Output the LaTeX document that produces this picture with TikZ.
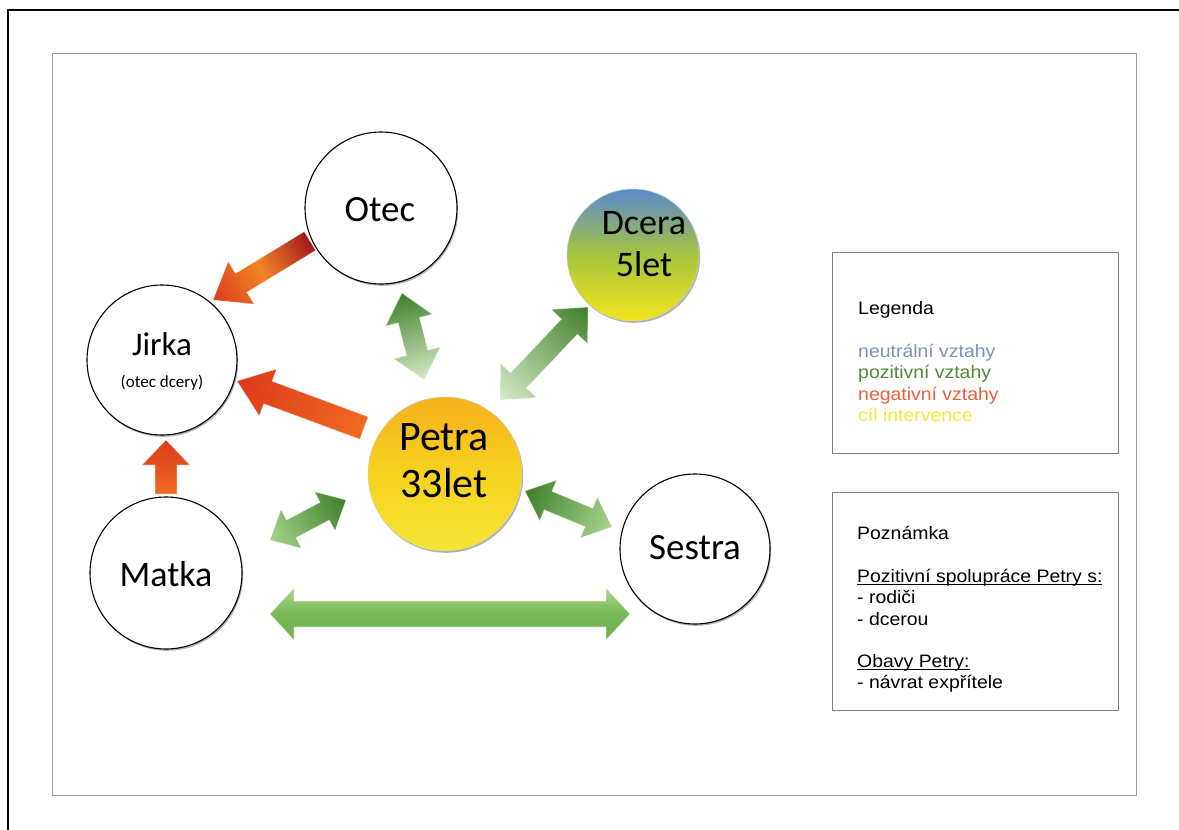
\documentclass[tikz,border=0pt]{standalone}
\usepackage{fontspec}
\newfontfamily\circfont{Carlito}
\newfontfamily\boxfont{Liberation Sans}[FakeStretch=1.08]
\usetikzlibrary{calc,shadows}

\definecolor{framegray}{HTML}{9C9C9C}
\definecolor{boxgray}{HTML}{808080}
\definecolor{neutralblue}{HTML}{7F8FC6}
\definecolor{posgreen}{HTML}{4F8A3A}
\definecolor{negred}{HTML}{E8603C}
\definecolor{goalyellow}{HTML}{EFEC3C}
\definecolor{petratop}{HTML}{F7B01C}
\definecolor{petramid}{HTML}{F7D21E}
\definecolor{petrabot}{HTML}{F3E634}
\definecolor{dceratop}{HTML}{5A89CE}
\definecolor{dceramid}{HTML}{A6C53E}
\definecolor{dcerabot}{HTML}{F4E41C}
\definecolor{gdark}{HTML}{3F7F2C}
\definecolor{gmid}{HTML}{78B956}
\definecolor{glight}{HTML}{A9D68C}
\definecolor{gpale}{HTML}{D6EBC6}
\definecolor{rdark}{HTML}{A3191B}
\definecolor{rorange}{HTML}{F28526}
\definecolor{rred}{HTML}{DC3A1C}
\definecolor{rtail}{HTML}{F06A22}

% underline drawn a little below the baseline
\newcommand\ulin[1]{\setbox0\hbox{#1}\rlap{\rule[-3pt]{\wd0}{1pt}}\box0}

% angle, length and start of a straight connector, in canvas units
\newcommand\arrowframe[2]{%
  \path let \p1=(#1), \p2=(#2) in
    \pgfextra{%
      \pgfmathsetmacro\tmpang{atan2((\y2)-(\y1),(\x2)-(\x1))}%
      \pgfmathsetmacro\tmplen{100*veclen(((\x2)-(\x1))/100,((\y2)-(\y1))/100)}%
      \xdef\arrang{\tmpang}\xdef\arrlen{\tmplen}%
      \xdef\arrx{\x1}\xdef\arry{\y1}%
    };%
}
% block arrow with heads at both ends
% #1 from, #2 to, #3 shaft half width, #4 head half width, #5 head length, #6 fill
\newcommand\twowayarrow[6]{%
  \arrowframe{#1}{#2}%
  \begin{scope}[transform canvas={shift={(\arrx,\arry)},rotate=\arrang},x=1pt,y=1pt]
    \path[#6] (0,0) -- (#5,#4) -- (#5,#3) -- ({\arrlen-#5},#3) -- ({\arrlen-#5},#4)
      -- (\arrlen,0) -- ({\arrlen-#5},-#4) -- ({\arrlen-#5},-#3) -- (#5,-#3)
      -- (#5,-#4) -- cycle;
  \end{scope}}
% block arrow pointing from #1 to #2
\newcommand\oneway[6]{%
  \arrowframe{#1}{#2}%
  \begin{scope}[transform canvas={shift={(\arrx,\arry)},rotate=\arrang},x=1pt,y=1pt]
    \path[#6] (0,#3) -- ({\arrlen-#5},#3) -- ({\arrlen-#5},#4) -- (\arrlen,0)
      -- ({\arrlen-#5},-#4) -- ({\arrlen-#5},-#3) -- (0,-#3) -- cycle;
  \end{scope}}

\tikzset{
  person/.style={circle, draw=black, line width=1.1pt, fill=white, minimum size=#1,
    inner sep=0pt, drop shadow={shadow xshift=1.2pt, shadow yshift=-1.8pt, opacity=0.3, fill=black}},
  glossy/.style={circle, draw=black!20, line width=0.5pt, minimum size=#1, inner sep=0pt,
    drop shadow={shadow xshift=1.2pt, shadow yshift=-1.8pt, opacity=0.3, fill=black}},
  circtext/.style={font=\circfont\fontsize{#1}{#1}\selectfont, inner sep=0pt, anchor=base},
  boxtext/.style={font=\boxfont\fontsize{18}{21}\selectfont, inner sep=0pt, anchor=base west},
  panel/.style={draw=boxgray, line width=1.2pt, fill=white, inner sep=0pt, anchor=north west},
  edge/.style={draw=white, draw opacity=0.55, line width=0.6pt},
}

\begin{document}
\begin{tikzpicture}[x=1pt,y=-1pt]
\useasboundingbox (0,0) rectangle (1179,830);
\fill[white] (0,0) rectangle (1179,830);

% sheet edges and page frame
\draw[black, line width=1.2pt] (8,830) -- (8,10) -- (1179,10);
\node[draw=framegray, line width=1.4pt, minimum width=1084pt, minimum height=742pt,
  inner sep=0pt, anchor=north west] (page) at (52,53) {};

% people
\node[person=152pt] (otec)   at (381,208) {};
\node[glossy=132pt, top color=dceratop, bottom color=dcerabot, middle color=dceramid] (dcera) at (633,255) {};
\node[person=150pt] (jirka)  at (162,360) {};
\node[glossy=154pt, top color=petratop, bottom color=petrabot, middle color=petramid] (petra) at (445,474) {};
\node[person=152pt] (matka)  at (166,573) {};
\node[person=150pt] (sestra) at (695,549) {};

\node[circtext=37] (otec-t)   at ($(otec)+(-1,13)$)  {Otec};
\node[circtext=36] (dcera-t1) at ($(dcera)+(11,-21)$) {Dcera};
\node[circtext=36] (dcera-t2) at ($(dcera)+(11,21)$)  {5let};
\node[circtext=33] (jirka-t1) at ($(jirka)+(0,-5)$)   {Jirka};
\node[circtext=17] (jirka-t2) at ($(jirka)+(0,27)$)   {(otec dcery)};
\node[circtext=42] (petra-t1) at ($(petra)+(-1,-24)$) {Petra};
\node[circtext=42] (petra-t2) at ($(petra)+(-1,23)$)  {33let};
\node[circtext=36] (matka-t)  at ($(matka)+(0,13)$)   {Matka};
\node[circtext=37] (sestra-t) at ($(sestra)+(0,10)$)  {Sestra};

% negative relations
\oneway{$(otec)+(-71,33)$}{$(jirka)+(51,-60)$}{11}{25}{33}
  {left color=rdark, right color=rred, middle color=rorange, edge}
\oneway{$(petra)+(-81,-46)$}{$(jirka)+(75,21)$}{12}{25}{33}
  {left color=rtail, right color=rred, edge}
\oneway{$(matka)+(0,-79)$}{$(jirka)+(4,80)$}{11}{24}{25}
  {left color=rtail, right color=rred, edge}

% positive relations
\twowayarrow{$(otec)+(21,85)$}{$(petra)+(-21,-94)$}{11}{24}{28}
  {left color=gdark, right color=gpale, edge}
\twowayarrow{$(dcera)+(-45,52)$}{$(petra)+(55,-74)$}{11}{25}{27}
  {left color=gdark, right color=gpale, edge}
\twowayarrow{$(matka)+(104,-33)$}{$(petra)+(-99,26)$}{10}{22}{24}
  {left color=glight!90!gmid, right color=gdark, edge}
\twowayarrow{$(petra)+(80,17)$}{$(sestra)+(-83,-22)$}{10}{22}{25}
  {left color=gdark, right color=glight, edge}
\twowayarrow{$(matka)+(104,41)$}{$(sestra)+(-65,65)$}{13}{26}{24}
  {top color=glight, bottom color=gmid!85!gdark, middle color=gmid, edge}

% legend
\node[panel, minimum width=286pt, minimum height=201pt] (legend) at (832,252) {};
\node[boxtext] (lg0) at (858,314)   {Legenda};
\node[boxtext, text=neutralblue] (lg1) at (858,357)   {neutrální vztahy};
\node[boxtext, text=posgreen]    (lg2) at (858,378.5) {pozitivní vztahy};
\node[boxtext, text=negred]      (lg3) at (858,400)   {negativní vztahy};
\node[boxtext, text=goalyellow]  (lg4) at (858,421.5) {cíl intervence};

% note
\node[panel, minimum width=286pt, minimum height=218pt] (note) at (832,492) {};
\node[boxtext] (nt0) at (857,539)   {Poznámka};
\node[boxtext] (nt1) at (857,582)   {\ulin{Pozitivní spolupráce Petry s:}};
\node[boxtext] (nt2) at (857,603.5) {- rodiči};
\node[boxtext] (nt3) at (857,625)   {- dcerou};
\node[boxtext] (nt4) at (857,667)   {\ulin{Obavy Petry:}};
\node[boxtext] (nt5) at (857,688.5) {- návrat expřítele};
\end{tikzpicture}
\end{document}
